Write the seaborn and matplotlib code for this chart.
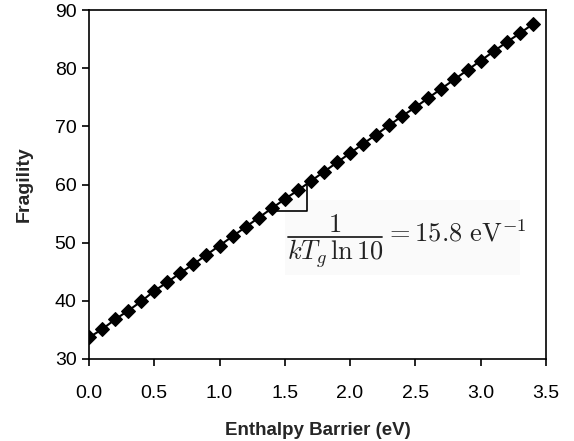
import matplotlib
matplotlib.use("Agg")
import matplotlib.pyplot as plt
from matplotlib.patches import Rectangle
import seaborn as sns
import pandas as pd

# Enthalpy barrier (eV) vs fragility
barrier = [0.0, 0.1, 0.2, 0.3, 0.4, 0.5, 0.6, 0.7, 0.8, 0.9,
           1.0, 1.1, 1.2, 1.3, 1.4, 1.5, 1.6, 1.7, 1.8, 1.9,
           2.0, 2.1, 2.2, 2.3, 2.4, 2.5, 2.6, 2.7, 2.8, 2.9,
           3.0, 3.1, 3.2, 3.3, 3.4]
fragility = [33.7, 35.1, 36.8, 38.3, 39.9, 41.7, 43.2, 44.8, 46.3, 47.9,
             49.5, 51.1, 52.7, 54.3, 55.9, 57.5, 59.0, 60.6, 62.2, 63.8,
             65.4, 67.0, 68.6, 70.2, 71.8, 73.3, 74.9, 76.5, 78.1, 79.7,
             81.3, 82.9, 84.5, 86.0, 87.6]

# slope triangle corners
tri_x = [1.42, 1.67, 1.67]
tri_y = [55.4, 55.4, 60.6]

x_ticks = [0.0, 0.5, 1.0, 1.5, 2.0, 2.5, 3.0, 3.5]
y_ticks = [30, 40, 50, 60, 70, 80, 90]

df = pd.DataFrame({"barrier": barrier, "fragility": fragility})

sns.set_style("ticks")
plt.rcParams['font.family'] = ['Liberation Sans', 'DejaVu Sans']
plt.rcParams['mathtext.fontset'] = 'cm'

fig = plt.figure(figsize=(5.74, 4.41), dpi=100)
ax = fig.add_axes([0.155, 0.186, 0.796, 0.791])

# faint background behind the slope formula
ax.add_patch(Rectangle((1.50, 44.5), 1.80, 12.9, facecolor='#fafafa',
                       edgecolor='none', zorder=0))

sns.lineplot(data=df, x="barrier", y="fragility", ax=ax, color='black',
             linewidth=1.5, marker='D', markersize=7.5, markeredgecolor='black',
             markerfacecolor='black', zorder=3)
ax.plot(tri_x, tri_y, color='black', linewidth=1.2, zorder=2)

# slope formula, built from pieces so the fraction stays full size
txt_col = '#222222'
ax.text(1.884, 51.8, r'$1$', ha='center', va='baseline', fontsize=19, color=txt_col)
ax.plot([1.523, 2.243], [51.0, 51.0], color=txt_col, linewidth=1.3)
ax.text(1.884, 47.1, r'$kT_g\,\ln 10$', ha='center', va='baseline',
        fontsize=19, color=txt_col)
ax.text(2.27, 50.2, r'$= 15.8\ \mathrm{eV}^{-1}$', ha='left', va='baseline',
        fontsize=19, color=txt_col)

ax.set_xlim(0, 3.5)
ax.set_ylim(30, 90)
ax.set_xticks(x_ticks)
ax.set_xticklabels([f'{v:.1f}' for v in x_ticks])
ax.set_yticks(y_ticks)
ax.tick_params(axis='both', direction='out', length=5, width=1.2,
               labelsize=14, colors='black', pad=4)
ax.tick_params(axis='x', pad=14)
for s in ax.spines.values():
    s.set_visible(True)
    s.set_color('black')
    s.set_linewidth(1.2)

ax.set_xlabel('Enthalpy Barrier (eV)', fontsize=13.5, fontweight='bold', labelpad=14)
ax.set_ylabel('Fragility', fontsize=14, fontweight='bold', labelpad=16)

fig.savefig('out.png', dpi=100)
